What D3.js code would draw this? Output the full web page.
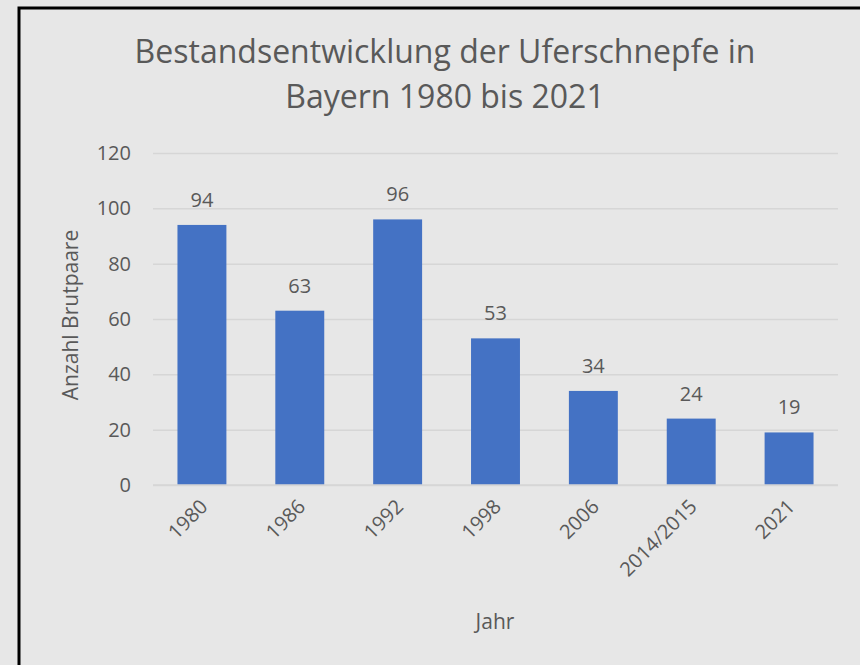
<!DOCTYPE html>
<html>
<head>
<meta charset="utf-8">
<script src="https://cdn.jsdelivr.net/npm/d3@7"></script>
<style>
  body { margin: 0; background: #e7e7e7; }
  text { font-family: "Open Sans", "Noto Sans", sans-serif; fill: #595959; }
</style>
</head>
<body>
<script>
var years = ['1980', '1986', '1992', '1998', '2006', '2014/2015', '2021'];
var pairs = [94, 63, 96, 53, 34, 24, 19];
var yTicks = [0, 20, 40, 60, 80, 100, 120];
var titleLines = ['Bestandsentwicklung der Uferschnepfe in', 'Bayern 1980 bis 2021'];

var width = 860, height = 665;
var plotLeft = 153, plotRight = 838, plotTop = 153, plotBottom = 485;

var svg = d3.select("body").append("svg").attr("width", width).attr("height", height);

// rahmen
svg.append("rect")
      .attr("x", 19).attr("y", 8)
      .attr("width", 900).attr("height", 700)
      .attr("fill", "#e7e7e7")
      .attr("stroke", "#000").attr("stroke-width", 3);

var x = d3.scaleBand().domain(years).range([plotLeft, plotRight]).paddingInner(0.5).paddingOuter(0.25);
var y = d3.scaleLinear().domain([0, 120]).range([plotBottom, plotTop]);

// gitterlinien
svg.append("g")
      .attr("transform", "translate(" + plotLeft + ",0)")
      .call(d3.axisLeft(y).tickValues(yTicks).tickSize(-(plotRight - plotLeft)).tickFormat(""))
      .call(function (g) { g.select(".domain").remove(); })
      .call(function (g) { g.selectAll("line").attr("stroke", "#d6d6d6").attr("stroke-width", 1.5); });

// y beschriftung
svg.append("g")
      .attr("transform", "translate(131,0)")
      .call(d3.axisLeft(y).tickValues(yTicks).tickSize(0).tickPadding(0))
      .call(function (g) { g.select(".domain").remove(); })
      .call(function (g) {
        g.selectAll("text").attr("font-size", "20px").attr("fill", "#595959")
          .attr("font-family", "'Open Sans', 'Noto Sans', sans-serif");
      });

svg.selectAll("rect.bar")
      .data(pairs)
      .enter().append("rect")
      .attr("class", "bar")
      .attr("x", function (d, i) { return x(years[i]); })
      .attr("y", function (d) { return y(d); })
      .attr("width", x.bandwidth())
      .attr("height", function (d) { return y(0) - y(d); })
      .attr("fill", "#4472c4");

svg.selectAll("text.val")
      .data(pairs)
      .enter().append("text")
      .attr("class", "val")
      .attr("x", function (d, i) { return x(years[i]) + x.bandwidth() / 2; })
      .attr("y", function (d) { return y(d) - 18; })
      .attr("text-anchor", "middle")
      .attr("font-size", "20px")
      .text(function (d) { return d; });

// x achse
svg.append("line")
      .attr("x1", plotLeft).attr("x2", plotRight)
      .attr("y1", plotBottom).attr("y2", plotBottom)
      .attr("stroke", "#d6d6d6").attr("stroke-width", 1.5);

svg.selectAll("text.xl")
      .data(years)
      .enter().append("text")
      .attr("class", "xl")
      .attr("transform", function (d) {
        return "translate(" + (x(d) + x.bandwidth() / 2 - 3) + ",498) rotate(-45)";
      })
      .attr("text-anchor", "end")
      .attr("dy", "0.7em")
      .attr("font-size", "20px")
      .text(function (d) { return d; });

svg.selectAll("text.title")
      .data(titleLines)
      .enter().append("text")
      .attr("class", "title")
      .attr("x", 445)
      .attr("y", function (d, i) { return 63 + i * 45; })
      .attr("text-anchor", "middle")
      .attr("font-size", "32px")
      .text(function (d) { return d; });

svg.append("text")
      .attr("transform", "translate(78,315) rotate(-90)")
      .attr("text-anchor", "middle")
      .attr("font-size", "21px")
      .text("Anzahl Brutpaare");

svg.append("text")
      .attr("x", 495).attr("y", 629)
      .attr("text-anchor", "middle")
      .attr("font-size", "21px")
      .text("Jahr");
</script>
</body>
</html>
